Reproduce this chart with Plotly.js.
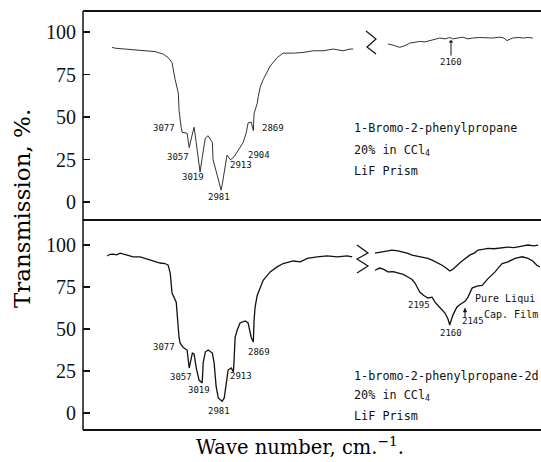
<!DOCTYPE html>
<html>
<head>
<meta charset="utf-8">
<script src="https://cdn.plot.ly/plotly-3.0.1.min.js"></script>
<style>html,body{margin:0;padding:0;background:#fff;}#chart{width:541px;height:462px;}</style>
</head>
<body>
<div id="chart"></div>
<script>
// ---- Data (wave number cm^-1, transmission %) ----
const topLeftWn = [3277,3268,3240,3211,3183,3154,3131,3117,3106,3103,3097,3088,3086,3080,3077,3063,3057,3048,3043,3037,3029,3026,3020,3011,3003,2991,2989,2977,2969,2966,2963,2954,2949,2940,2934,2926,2912,2903,2894,2889,2880,2874,2872,2863,2860,2854,2846,2835,2826,2806,2789,2760,2732,2703,2675,2646,2618,2598,2589];
const topLeftT  = [91,90.5,90,89.5,89,88.5,87,85,82,78,72,64,54,44,41,40.5,32,40,44,35,22,17.6,26,37.6,39,35,25,15,9,7,10,22,27.6,25,25.5,27.6,32,35,41,46.5,47,42,52,58,62,68,72,76,80,85,87.6,87.6,88,89,89,90,89,90,90];

const topRightWn = [2267,2260,2247,2238,2230,2221,2213,2204,2196,2187,2179,2170,2162,2157,2150,2140,2131,2123,2111,2099,2089,2077,2070,2065,2060,2055,2046,2037,2029,2021];
const topRightT  = [93,92.5,91,92,93.5,94,94.5,94.2,95,95.5,96.5,96,96.8,96,96.5,97,96,96.5,96.8,96.5,96.5,97,96.5,95,96,96.5,96.8,96.5,96.8,96.5];

const botLeftWn = [3291,3283,3274,3264,3254,3244,3234,3217,3197,3177,3160,3140,3126,3117,3111,3106,3094,3091,3086,3083,3074,3063,3057,3048,3043,3037,3029,3020,3017,3011,3003,2991,2986,2980,2974,2963,2957,2951,2946,2937,2931,2929,2926,2920,2912,2897,2889,2880,2874,2872,2869,2863,2846,2826,2806,2789,2760,2740,2720,2692,2663,2635,2606,2592];
const botLeftT  = [93.5,94.5,94.6,94.2,95.2,94.5,94,93,93,91.7,90.5,89.3,89,88,83,71.4,66,57,45,41.7,39,37.5,26.8,35.7,35,27,19.6,17.9,30,36.3,37.5,35.7,30,15.5,9,7,9,18,25.6,26.8,24.4,31.5,45,49.4,53.6,54.8,53.6,45,42.3,55,63,70,79,84,87,89,90.5,90,92,93,93.5,93,93.5,93];

const botRightUpWn = [2289,2277,2267,2260,2250,2243,2233,2226,2218,2209,2199,2192,2182,2175,2167,2162,2157,2153,2146,2141,2133,2128,2119,2114,2104,2097,2087,2080,2070,2063,2053,2046,2037,2029,2019,2012];
const botRightUpT  = [95.2,95.8,96.5,97,96.5,96,95,94,93.5,93,92,91,89.5,88,86,84.5,85.5,87,89,90.5,92.5,94,95.5,97,97.5,98,97.8,98,98.5,98.8,98.5,98.8,99.5,100,99.5,100];

const botRightLoWn = [2289,2281,2274,2267,2258,2250,2241,2233,2226,2221,2213,2206,2199,2192,2187,2182,2175,2170,2165,2162,2157,2150,2145,2141,2136,2131,2124,2116,2107,2097,2085,2078,2073,2063,2051,2039,2029,2021,2014,2009];
const botRightLoT  = [85,86.3,85.5,84,84.2,83.3,82.5,81,79.5,77.4,72,70,68.5,69,66,64,61.5,59.5,56,52.4,58,63,64.5,65.5,66.5,69,74.4,75.5,76,80,84,87,89,90,92,93,92,90.5,88,87];

const yTicks = [0,25,50,75,100];
const yTickText = ['0','25','50','75','100'];

const topPeakLabels = ['3077','3057','3019','2981','2913','2904','2869'];
const botPeakLabels = ['3077','3057','3019','2981','2913','2869','2195','2160','2145'];

// ---- Layout helpers ----
const W = 541, H = 462, ML = 83, MR = 0, MT = 11, MB = 32;
const PW = W - ML - MR, PH = H - MT - MB;
function P(px, py){ return {x:(px-ML)/PW, y:(H-MB-py)/PH}; }
const split = P(362,0).x;
const mid = P(0,220).y;

const ink = '#111';
const mono = 'DejaVu Sans Mono, monospace';
const serif = 'Liberation Serif, serif';
const wideSerif = 'DejaVu Serif, serif';

const traces = [
  {x: topLeftWn, y: topLeftT, xaxis:'x', yaxis:'y', mode:'lines', line:{color:'#333', width:1}},
  {x: topRightWn, y: topRightT, xaxis:'x2', yaxis:'y', mode:'lines', line:{color:'#333', width:1}},
  {x: botLeftWn, y: botLeftT, xaxis:'x3', yaxis:'y2', mode:'lines', line:{color:'#111', width:1.3}},
  {x: botRightUpWn, y: botRightUpT, xaxis:'x4', yaxis:'y2', mode:'lines', line:{color:'#111', width:1.3}},
  {x: botRightLoWn, y: botRightLoT, xaxis:'x4', yaxis:'y2', mode:'lines', line:{color:'#111', width:1.3}}
];

const hidden = {visible:false, fixedrange:true};
const yBase = {tickvals: yTicks, ticktext: yTickText, ticks:'inside', ticklen:7, tickwidth:1.3, tickcolor:ink,
  showline:false, showgrid:false, zeroline:false, tickfont:{family:serif, size:20, color:ink}, ticklabelstandoff:6};

const annotations = [];
function lab(text, px, py, size, anchor){
  const p = P(px, py);
  annotations.push({xref:'paper', yref:'paper', x:p.x, y:p.y, text:text, showarrow:false,
    xanchor: anchor || 'center', yanchor:'middle', font:{family:mono, size:size||9, color:ink}});
}
const topPos = [[164,128],[178,157],[193,177],[219,197],[241,165],[259,155],[273,128]];
topPeakLabels.forEach((t,i)=>lab(t, topPos[i][0], topPos[i][1]));
const botPos = [[164,347],[181,377],[199,390],[219,411],[241,376],[259,352],[419,305],[451,333],[473,321]];
botPeakLabels.forEach((t,i)=>lab(t, botPos[i][0], botPos[i][1]));
lab('Pure Liqui', 473, 298, 10, 'left');
lab('Cap. Film', 482, 314, 10, 'left');
// text blocks
lab('1-Bromo-2-phenylpropane', 352, 128, 11.8, 'left');
lab('20% in CCl<sub>4</sub>', 352, 150, 11.8, 'left');
lab('LiF Prism', 352, 171, 11.8, 'left');
lab('1-bromo-2-phenylpropane-2d', 352, 376, 11.8, 'left');
lab('20% in CCl<sub>4</sub>', 352, 395, 11.8, 'left');
lab('LiF Prism', 352, 416, 11.8, 'left');
// 2160 arrow (top panel)
(function(){
  const h = P(451,40);
  annotations.push({xref:'paper', yref:'paper', x:h.x, y:h.y, ax:0, ay:22, text:'2160', showarrow:true,
    arrowhead:1, arrowsize:0.8, arrowwidth:1, arrowcolor:ink, font:{family:mono, size:9, color:ink}});
})();
// titles
(function(){
  const t = P(22, 209);
  annotations.push({xref:'paper', yref:'paper', x:t.x, y:t.y, text:'Transmission, %.', textangle:-90, showarrow:false,
    xanchor:'center', yanchor:'middle', font:{family:wideSerif, size:23, color:'#000'}});
  const b = P(300, 446);
  annotations.push({xref:'paper', yref:'paper', x:b.x, y:b.y, text:'Wave number, cm.<sup>\u22121</sup>.', showarrow:false,
    xanchor:'center', yanchor:'middle', font:{family:wideSerif, size:19.5, color:'#000'}});
})();

// frame + break marks
function pline(x0,y0,x1,y1,w){
  const a = P(x0,y0), b = P(x1,y1);
  return {type:'line', xref:'paper', yref:'paper', x0:a.x, y0:a.y, x1:b.x, y1:b.y, line:{color:ink, width:w}};
}
function ppath(pts,w,fill){
  let d = pts.map((q,i)=>{const p=P(q[0],q[1]); return (i?'L':'M')+p.x+','+p.y;}).join(' ');
  if(fill) d += ' Z';
  const s = {type:'path', xref:'paper', yref:'paper', path:d, line:{color:ink, width:w}};
  if(fill) s.fillcolor = ink;
  return s;
}
const shapes = [
  pline(83,11,541,11,2),
  pline(83,220,541,220,2),
  pline(83,430,541,430,2),
  pline(83,11,83,430,1.5),
  ppath([[366,31],[376,39],[367,47],[376,54]],1.2),
  ppath([[357,245],[368,253],[357,259],[368,266],[357,273]],1.2),
  pline(465,318,465,311,1),
  ppath([[463.3,312],[465,308],[466.7,312]],0.5,true)
];

const layout = {
  width:W, height:H, margin:{l:ML, r:MR, t:MT, b:MB, pad:0},
  paper_bgcolor:'#fff', plot_bgcolor:'#fff', showlegend:false,
  xaxis: Object.assign({domain:[0,split], range:[3360,2564], anchor:'y'}, hidden),
  xaxis2: Object.assign({domain:[split,1], range:[2311,2007], anchor:'y'}, hidden),
  xaxis3: Object.assign({domain:[0,split], range:[3360,2564], anchor:'y2'}, hidden),
  xaxis4: Object.assign({domain:[split,1], range:[2311,2007], anchor:'y2'}, hidden),
  yaxis: Object.assign({domain:[mid,1], range:[-10.6,112.4], anchor:'x'}, yBase),
  yaxis2: Object.assign({domain:[0,mid], range:[-10.1,114.9], anchor:'x3'}, yBase),
  annotations: annotations,
  shapes: shapes
};
Plotly.newPlot('chart', traces, layout, {staticPlot:true, displayModeBar:false});
</script>
</body>
</html>
